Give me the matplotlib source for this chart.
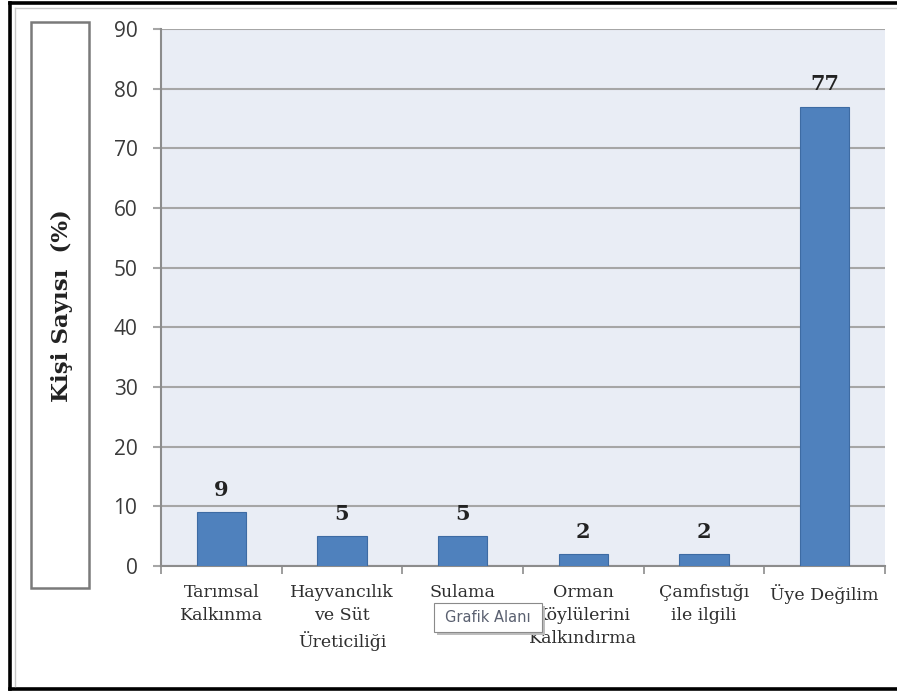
import matplotlib.pyplot as plt
from matplotlib.patches import Rectangle
from matplotlib.lines import Line2D

# data
categories = ["Tarımsal\nKalkınma", "Hayvancılık\nve Süt\nÜreticiliği", "Sulama",
              "Orman\nKöylülerini\nKalkındırma", "Çamfıstığı\nile ilgili", "Üye Değilim"]
values = [9, 5, 5, 2, 2, 77]
y_ticks = [0, 10, 20, 30, 40, 50, 60, 70, 80, 90]

W, H = 897, 693


def fx(x):
    return x / W


def fy(y):
    return 1 - y / H


fig = plt.figure(figsize=(W / 100, H / 100), dpi=100)
fig.patch.set_facecolor("white")

ax = fig.add_axes([fx(161), fy(566), fx(885) - fx(161), fy(29) - fy(566)])
ax.set_facecolor("#e9edf5")

x = list(range(len(values)))
bars = ax.bar(x, values, width=0.41, color="#4f81bd", edgecolor="#3d6ba3", linewidth=0.8, zorder=3)
ax.bar_label(bars, labels=[str(v) for v in values], padding=9, fontsize=15,
             fontweight="bold", family="DejaVu Serif", color="#222222")

ax.set_xlim(-0.5, len(values) - 0.5)
ax.set_ylim(0, 90)
ax.set_yticks(y_ticks)
ax.set_yticklabels([str(t) for t in y_ticks], fontsize=15, color="#3a3a3a", family="Open Sans")
ax.yaxis.grid(True, color="#a6a6a6", linewidth=1.5, zorder=1)
ax.set_axisbelow(True)

# category labels at centres, tick marks at the boundaries (Excel style)
ax.set_xticks(x)
ax.set_xticklabels(categories, fontsize=12.5, family="DejaVu Serif", color="#2e2e2e", linespacing=1.45)
ax.tick_params(axis="x", which="major", length=0, pad=13)
ax.set_xticks([i - 0.5 for i in range(len(values) + 1)], minor=True)
ax.tick_params(axis="x", which="minor", length=6, color="#8c8c8c", width=1.2)
ax.tick_params(axis="y", length=6, color="#a6a6a6", width=1.5, pad=11)

for s in ["top", "right"]:
    ax.spines[s].set_visible(False)
for s in ["left", "bottom"]:
    ax.spines[s].set_color("#8c8c8c")
    ax.spines[s].set_linewidth(1.5)

# boxed y label
fig.patches.append(Rectangle((fx(31), fy(588)), fx(89) - fx(31), fy(22) - fy(588),
                             transform=fig.transFigure, facecolor="white",
                             edgecolor="#7a7a7a", linewidth=1.8))
fig.text(fx(62), fy(306), "Kişi Sayısı  (%)", rotation=90, ha="center", va="center",
         fontsize=16.5, fontweight="bold", family="DejaVu Serif", color="#222222")

# outer frame of the screenshot
fig.lines.append(Line2D([fx(10), fx(10)], [fy(3), fy(689)], transform=fig.transFigure,
                        color="black", linewidth=2.6))
fig.lines.append(Line2D([fx(10), fx(897)], [fy(3), fy(3)], transform=fig.transFigure,
                        color="black", linewidth=2.6))
fig.lines.append(Line2D([fx(10), fx(897)], [fy(689), fy(689)], transform=fig.transFigure,
                        color="black", linewidth=2.6))
fig.lines.append(Line2D([fx(15), fx(15)], [fy(8), fy(686)], transform=fig.transFigure,
                        color="#c8c8c8", linewidth=1))
fig.lines.append(Line2D([fx(15), fx(897)], [fy(8), fy(8)], transform=fig.transFigure,
                        color="#c8c8c8", linewidth=1))

# tooltip seen in the screenshot
fig.patches.append(Rectangle((fx(437), fy(635)), fx(545) - fx(437), fy(606) - fy(635),
                             transform=fig.transFigure, facecolor="#bdbdbd",
                             edgecolor="none", zorder=5))
fig.patches.append(Rectangle((fx(434), fy(632)), fx(542) - fx(434), fy(603) - fy(632),
                             transform=fig.transFigure, facecolor="white",
                             edgecolor="#8a8a8a", linewidth=0.8, zorder=6))
fig.text(fx(488), fy(617.5), "Grafik Alanı", ha="center", va="center", fontsize=10.5,
         family="DejaVu Sans", color="#5a6070", zorder=7)

fig.savefig("out.png", dpi=100)
